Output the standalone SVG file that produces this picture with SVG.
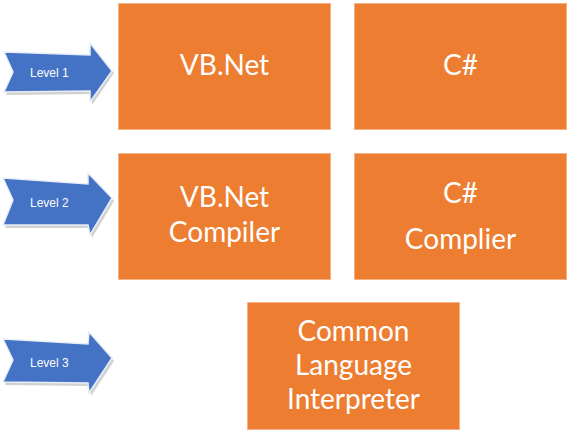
<svg xmlns="http://www.w3.org/2000/svg" width="571" height="436" viewBox="0 0 571 436">
<style>
.box{fill:#ED7D31;stroke:#F4B183;stroke-width:1}
.arrow{fill:#4472C4;stroke:#E8EEF8;stroke-width:1.5;stroke-linejoin:miter}
.shadow{fill:#9A9A9A;opacity:0.45}
.lbl{font-family:"Liberation Sans",Arial,sans-serif;font-size:12px;fill:#FFFFFF}
.txt{font-family:Lato,"Open Sans",sans-serif;font-size:28px;fill:#FFFFFF;text-anchor:middle}
</style>
<rect width="571" height="436" fill="#FFFFFF"/>
<g id="level1">
<polygon class="shadow" points="6,55 92,58 92,46 114,73 92,105 92,94 6,95 15,75"/>
<polygon class="arrow" points="4,52 90,55 90,43 112,71 90,102 90,91 4,92 13,72"/>
<text class="lbl" x="30" y="77">Level 1</text>
</g>
<g id="level2">
<polygon class="shadow" points="5,181 90,187 90,176 114,201 92,238 90,228 5,228 15,203"/>
<polygon class="arrow" points="3,178 88,184 88,173 112,198 90,235 88,225 3,225 13,200"/>
<text class="lbl" x="30" y="207">Level 2</text>
</g>
<g id="level3">
<polygon class="shadow" points="5,342 90,347 91,335 114,361 91,396 90,386 5,385 15,363"/>
<polygon class="arrow" points="3,339 88,344 89,332 112,358 89,393 88,383 3,382 13,360"/>
<text class="lbl" x="30" y="367">Level 3</text>
</g>
<g id="vbnet">
<rect class="box" x="118.5" y="3.5" width="212" height="126"/>
<text class="txt" x="224.5" y="75">VB.Net</text>
</g>
<g id="csharp">
<rect class="box" x="354.5" y="3.5" width="212" height="126"/>
<text class="txt" x="460.5" y="75">C#</text>
</g>
<g id="vbnet-compiler">
<rect class="box" x="118.5" y="153.5" width="212" height="126"/>
<text class="txt" x="224.5" y="207">VB.Net</text>
<text class="txt" x="224.5" y="242">Compiler</text>
</g>
<g id="csharp-compiler">
<rect class="box" x="354.5" y="153.5" width="212" height="126"/>
<text class="txt" x="460.5" y="203">C#</text>
<text class="txt" x="460.5" y="249">Complier</text>
</g>
<g id="cli">
<rect class="box" x="247.5" y="302.5" width="212" height="127"/>
<text class="txt" x="353.5" y="341">Common</text>
<text class="txt" x="353.5" y="375">Language</text>
<text class="txt" x="353.5" y="409">Interpreter</text>
</g>
<g id="connectors"></g>
</svg>
